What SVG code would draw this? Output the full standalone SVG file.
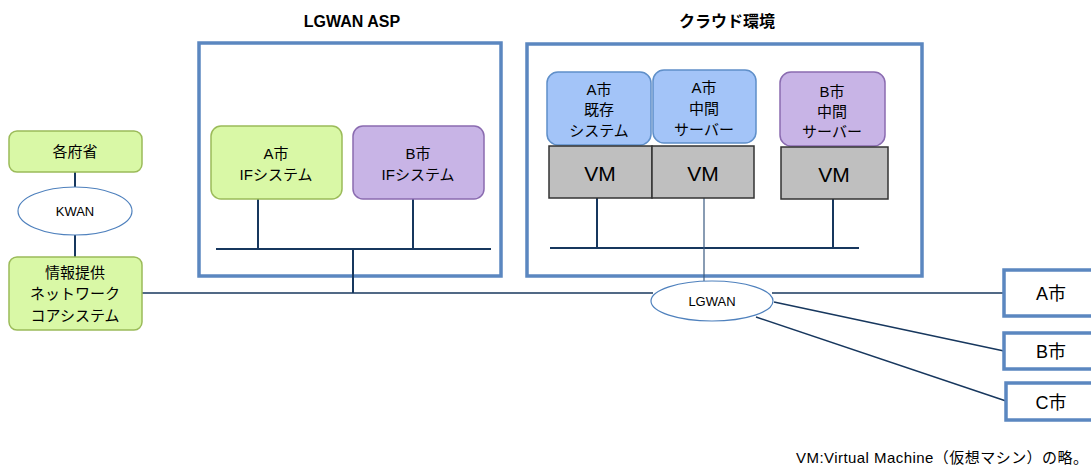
<svg xmlns="http://www.w3.org/2000/svg" width="1091" height="468" viewBox="0 0 1091 468">
  <style>
    text { font-family: "Liberation Sans", "Noto Sans CJK JP", sans-serif; fill: #000; text-anchor: middle; }
    .t { font-size: 15px; }
    .title { font-size: 16px; font-weight: bold; }
    .vm { font-size: 21px; }
    .city { font-size: 18px; }
    .green { fill: #d9f8a6; stroke: #9bbb59; stroke-width: 1.5; }
    .purple { fill: #c8b4e6; stroke: #8a6bb0; stroke-width: 1.5; }
    .blue { fill: #a3c4f8; stroke: #5f8fc9; stroke-width: 1.5; }
    .frame { fill: #fff; stroke: #5b87c0; stroke-width: 3.5; }
    .vmbox { fill: #bfbfbf; stroke: #333; stroke-width: 1.5; }
    .cloud { fill: #fff; stroke: #4f81bd; stroke-width: 1.2; }
    .wire { stroke: #17375e; stroke-width: 2; fill: none; }
    .thin { stroke: #17375e; stroke-width: 1.5; fill: none; }
  </style>

  <!-- group frames -->
  <g id="lgwan-asp">
    <rect class="frame" x="199" y="43" width="302" height="233"/>
    <text class="title" x="352" y="27">LGWAN ASP</text>
  </g>
  <g id="cloud-env">
    <rect class="frame" x="527" y="44" width="395" height="232"/>
    <text class="title" x="727" y="27">クラウド環境</text>
  </g>

  <!-- connectors -->
  <g id="connectors">
    <line class="wire" x1="75" y1="172" x2="75" y2="187"/>
    <line class="wire" x1="75" y1="235" x2="75" y2="257"/>
    <line class="thin" x1="142" y1="293" x2="653" y2="293"/>
    <line class="wire" x1="258" y1="199" x2="258" y2="249"/>
    <line class="wire" x1="413" y1="199" x2="413" y2="249"/>
    <line class="wire" x1="216" y1="249" x2="491" y2="249"/>
    <line class="wire" x1="353" y1="249" x2="353" y2="293"/>
    <line class="wire" x1="597" y1="198" x2="597" y2="248"/>
    <line class="wire" x1="833" y1="199" x2="833" y2="248"/>
    <line class="wire" x1="550" y1="248" x2="859" y2="248"/>
    <line stroke="#3a5a80" stroke-width="1.2" x1="704" y1="198" x2="704" y2="281"/>
    <line class="thin" x1="772" y1="293" x2="1003" y2="293"/>
    <line class="thin" x1="774" y1="302" x2="1004" y2="351"/>
    <line class="thin" x1="756" y1="317" x2="1006" y2="401"/>
  </g>

  <!-- left column -->
  <g id="kakufusho">
    <rect class="green" x="9" y="131" width="133" height="41" rx="8"/>
    <text class="t" x="75" y="157">各府省</text>
  </g>
  <g id="kwan">
    <ellipse class="cloud" cx="75" cy="211" rx="57" ry="24"/>
    <text x="75" y="216" font-size="13">KWAN</text>
  </g>
  <g id="core-system">
    <rect class="green" x="9" y="257" width="133" height="73" rx="8"/>
    <text class="t" x="75" y="278">情報提供</text>
    <text class="t" x="75" y="299">ネットワーク</text>
    <text class="t" x="75" y="321">コアシステム</text>
  </g>

  <!-- LGWAN ASP nodes -->
  <g id="a-if">
    <rect class="green" x="211" y="126" width="131" height="73" rx="10"/>
    <text class="t" x="276" y="159">A市</text>
    <text class="t" x="276" y="180">IFシステム</text>
  </g>
  <g id="b-if">
    <rect class="purple" x="353" y="126" width="131" height="73" rx="10"/>
    <text class="t" x="418" y="159">B市</text>
    <text class="t" x="418" y="180">IFシステム</text>
  </g>

  <!-- cloud nodes -->
  <g id="a-existing">
    <rect class="blue" x="547" y="72" width="104" height="73" rx="11"/>
    <text class="t" x="599" y="95">A市</text>
    <text class="t" x="599" y="115">既存</text>
    <text class="t" x="599" y="136">システム</text>
  </g>
  <g id="a-middle">
    <rect class="blue" x="653" y="70" width="103" height="73" rx="11"/>
    <text class="t" x="704" y="93">A市</text>
    <text class="t" x="704" y="114">中間</text>
    <text class="t" x="704" y="135">サーバー</text>
  </g>
  <g id="b-middle">
    <rect class="purple" x="780" y="72" width="105" height="74" rx="11"/>
    <text class="t" x="832" y="97">B市</text>
    <text class="t" x="832" y="117">中間</text>
    <text class="t" x="832" y="137">サーバー</text>
  </g>
  <g id="vm-1">
    <rect class="vmbox" x="549" y="146" width="103" height="52"/>
    <text class="vm" x="600" y="181">VM</text>
  </g>
  <g id="vm-2">
    <rect class="vmbox" x="652" y="146" width="102" height="52"/>
    <text class="vm" x="703" y="181">VM</text>
  </g>
  <g id="vm-3">
    <rect class="vmbox" x="781" y="147" width="107" height="52"/>
    <text class="vm" x="834" y="182">VM</text>
  </g>

  <!-- LGWAN and municipalities -->
  <g id="lgwan">
    <ellipse class="cloud" cx="712" cy="301" rx="61" ry="20"/>
    <text x="712" y="306" font-size="13">LGWAN</text>
  </g>
  <g id="city-a">
    <rect class="frame" x="1004" y="270" width="100" height="46"/>
    <text class="city" x="1051" y="300">A市</text>
  </g>
  <g id="city-b">
    <rect class="frame" x="1004" y="333" width="100" height="36"/>
    <text class="city" x="1051" y="358">B市</text>
  </g>
  <g id="city-c">
    <rect class="frame" x="1006" y="383" width="100" height="37"/>
    <text class="city" x="1051" y="409">C市</text>
  </g>

  <text x="796" y="463" font-size="15" textLength="292" lengthAdjust="spacing" style="text-anchor:start">VM:Virtual Machine（仮想マシン）の略。</text>
</svg>
